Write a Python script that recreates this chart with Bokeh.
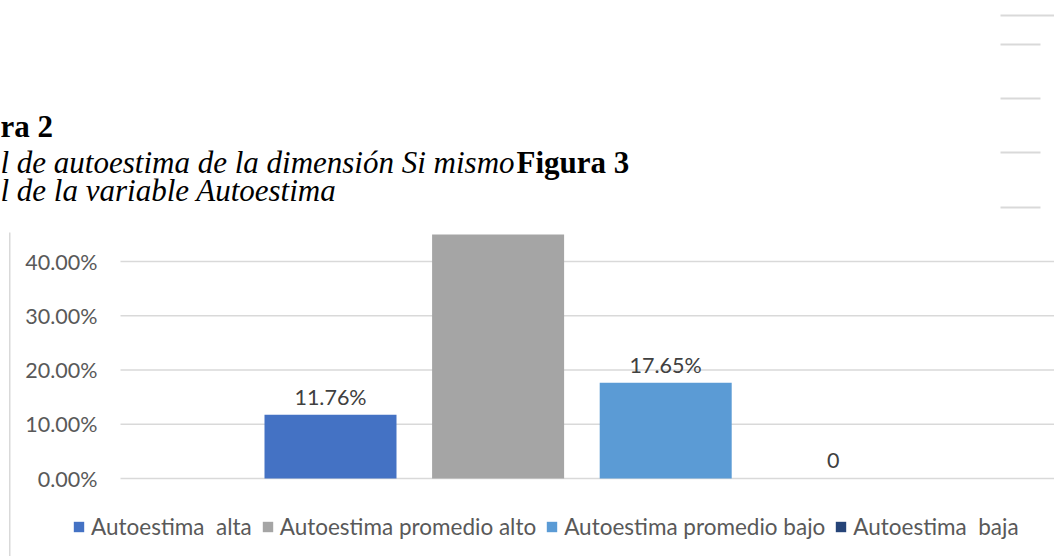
from bokeh.plotting import figure
from bokeh.models import (Range1d, Legend, LegendItem, Label, BoxAnnotation, ColumnDataSource)
from bokeh.core.properties import value
from bokeh.embed import file_html
from bokeh.resources import INLINE

# ---- data ----
series = ["Autoestima  alta", "Autoestima promedio alto",
          "Autoestima promedio bajo", "Autoestima  baja"]
values = [0.1176, 0.7059, 0.1765, 0.0]
data_labels = ["11.76%", "70.59%", "17.65%", "0"]
colors = ["#4472C4", "#A5A5A5", "#5B9BD5", "#264478"]
y_ticks = [0.0, 0.1, 0.2, 0.3, 0.4]
y_tick_labels = ["0.00%", "10.00%", "20.00%", "30.00%", "40.00%"]
y_max = 0.45          # value-axis maximum of the chart (bars are cut there)

title_line1 = "ra 2"
title_line2 = "l de autoestima de la dimensión Si mismo"
title_line2b = "Figura 3"
title_line3 = "l de la variable Autoestima"

SANS = "Lato"
SERIF = "Liberation Serif"

# ---- layout constants (pixels) ----
W, H = 1054, 556
PLOT_L, PLOT_T, PLOT_B = 120, 234, 478      # plot area edges
SLOT_PX = 167.6                              # pixels per series slot
SLOT0_PX = 330                               # centre of first slot
Y_PX = (PLOT_B - PLOT_T) / y_max             # pixels per unit of value

n = len(series)
p = figure(width=W, height=H,
           x_range=Range1d(-SLOT0_PX / SLOT_PX, (W - SLOT0_PX) / SLOT_PX),
           y_range=Range1d(-(H - PLOT_B) / Y_PX, PLOT_B / Y_PX),
           x_axis_location=None, y_axis_location=None,
           output_backend="svg", toolbar_location=None,
           min_border=0, min_border_left=0, min_border_right=0,
           min_border_top=0, min_border_bottom=0)
p.extra_x_ranges = {"px": Range1d(0, W)}
p.extra_y_ranges = {"px": Range1d(H, 0)}
p.outline_line_color = None
p.background_fill_color = "white"
p.border_fill_color = "white"
p.xgrid.visible = False
p.ygrid.visible = False

# gridlines (value axis) and tick labels
p.segment(x0=[PLOT_L] * len(y_ticks), x1=[W] * len(y_ticks), y0=y_ticks, y1=y_ticks,
          x_range_name="px", line_color="#D9D9D9", line_width=1.5)
p.text(x=[PLOT_L - 23] * len(y_ticks), y=y_ticks, text=y_tick_labels,
       x_range_name="px", text_align="right", text_baseline="middle",
       text_font=value(SANS), text_font_size="21.5px", text_color="#595959")

# bars (cut at the axis maximum like the original chart)
xs = list(range(n))
tops = [min(v, y_max) for v in values]
src = ColumnDataSource(dict(x=xs, top=tops, color=colors))
r = p.vbar(x="x", top="top", bottom=0, width=132 / SLOT_PX, color="color",
           line_color=None, source=src)

# data labels (only those inside the visible value range)
vis = [i for i, v in enumerate(values) if v < y_max]
p.text(x=[xs[i] for i in vis], y=[values[i] for i in vis],
       text=[data_labels[i] for i in vis],
       y_offset=-18, text_align="center", text_baseline="alphabetic",
       text_font=value(SANS), text_font_size="21.5px", text_color="#404040")

# legend
items = [LegendItem(label=s, renderers=[r], index=i) for i, s in enumerate(series)]
leg = Legend(items=items, orientation="horizontal", location=(72, 16),
             glyph_width=13, glyph_height=13, label_standoff=6, spacing=9,
             padding=0, margin=0, border_line_color=None, background_fill_alpha=0,
             label_text_font=SANS, label_text_font_size="22.5px",
             label_text_color="#595959")
p.add_layout(leg)

# title text (document caption, partially cut in the original)
common = dict(x_range_name="px", y_range_name="px", text_font=SERIF,
              text_font_size="31px", text_color="black", text_baseline="alphabetic")
p.add_layout(Label(x=0, y=126, text=title_line1, text_font_style="bold", **common))
p.add_layout(Label(x=0, y=162, text=title_line2, text_font_style="italic", **common))
p.add_layout(Label(x=516, y=162, text=title_line2b, text_font_style="bold", **common))
p.add_layout(Label(x=0, y=190, text=title_line3, text_font_style="italic", **common))

# decorative page lines
deco = dict(x_range_name="px", y_range_name="px",
            fill_color="#D9D9D9", fill_alpha=1, line_color=None)
p.add_layout(BoxAnnotation(left=8.5, right=10, top=232, bottom=H, **deco))
p.add_layout(BoxAnnotation(left=1000, right=W, top=14, bottom=16, **deco))
for yy in [44, 98, 152, 207]:
    p.add_layout(BoxAnnotation(left=1000, right=1040, top=yy - 1, bottom=yy + 1, **deco))

open("out.html", "w").write(file_html(p, INLINE))
